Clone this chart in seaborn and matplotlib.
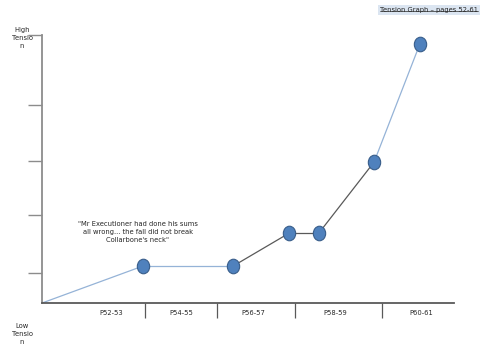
import matplotlib
matplotlib.use("Agg")
import matplotlib.pyplot as plt
from matplotlib.path import Path
from matplotlib.transforms import Affine2D
import seaborn as sns
import pandas as pd

# data (x along the page axis 0-10, tension 0-10)
point_x = [0.0, 2.45, 4.64, 6.0, 6.72, 8.06, 9.17]
tension = [0.0, 1.38, 1.38, 2.61, 2.61, 5.26, 9.66]
has_marker = [False, True, True, True, True, True, True]
segment_kind = ["light", "light", "dark", "dark", "dark", "light"]

categories = ["P52-53", "P54-55", "P56-57", "P58-59", "P60-61"]
category_centres = [1.67, 3.37, 5.12, 7.11, 9.2]
category_dividers = [2.5, 4.25, 6.14, 8.25]
tension_ticks = [1.12, 3.28, 5.3, 7.39, 10.0]

quote = '"Mr Executioner had done his sums\nall wrong... the fall did not break\nCollarbone\'s neck"'
title = "Tension Graph \u2013 pages 52-61"

sns.set_style("white")
plt.rcParams["font.family"] = ["DejaVu Sans"]
fs = 4.9
txt_color = "#262626"

df = pd.DataFrame({"x": point_x, "tension": tension, "marker": has_marker})

fig = plt.figure(figsize=(5, 3.53), dpi=100)
ax = fig.add_axes([0.084, 0.1416, 0.824, 0.759])

# line segments, two colours
seg_colors = {"light": "#95b3d7", "dark": "#595959"}
for i, kind in enumerate(segment_kind):
    seg = df.iloc[i:i + 2]
    sns.lineplot(data=seg, x="x", y="tension", color=seg_colors[kind],
                 linewidth=0.9, ax=ax, sort=False)

# slightly tall oval markers
ellipse = Path.unit_circle().transformed(Affine2D().scale(1.0, 1.18))
sns.scatterplot(data=df[df["marker"]], x="x", y="tension", marker=ellipse,
                s=110, color="#4f81bd", edgecolor="#385d8a", linewidth=0.8,
                ax=ax, zorder=5, clip_on=False)

ax.set_xlim(0, 10)
ax.set_ylim(0, 10)
ax.set_xlabel("")
ax.set_ylabel("")
for side in ["top", "right"]:
    ax.spines[side].set_visible(False)
ax.spines["left"].set_color("#8c8c8c")
ax.spines["left"].set_linewidth(1.3)
ax.spines["bottom"].set_color("#595959")
ax.spines["bottom"].set_linewidth(1.3)

ax.set_yticks(tension_ticks)
ax.set_yticklabels([])
ax.tick_params(axis="y", direction="out", length=10, width=1.0, color="#8c8c8c", left=True)
ax.set_xticks(category_dividers)
ax.set_xticklabels([])
ax.tick_params(axis="x", direction="out", length=11, width=0.9, color="#595959", bottom=True)

for name, cx in zip(categories, category_centres):
    ax.annotate(name, xy=(cx, 0), xycoords=("data", "axes fraction"),
                xytext=(0, -7), textcoords="offset points", ha="center",
                va="center", fontsize=fs, color=txt_color)

fig.text(0.044, 0.893, "High\nTensio\nn", ha="center", va="center",
         fontsize=fs, color=txt_color, linespacing=1.45)
fig.text(0.044, 0.054, "Low\nTensio\nn", ha="center", va="center",
         fontsize=fs, color=txt_color, linespacing=1.45)

ax.text(2.33, 2.65, quote, ha="center", va="center", fontsize=fs,
        color=txt_color, linespacing=1.45)

t = fig.text(0.858, 0.972, title, ha="center", va="center", fontsize=fs,
             color=txt_color,
             bbox=dict(boxstyle="square,pad=0.35", facecolor="#dbe5f1",
                       edgecolor="none"))
fig.canvas.draw()
bb = t.get_window_extent().transformed(fig.transFigure.inverted())
fig.add_artist(plt.Line2D([bb.x0, bb.x1], [bb.y0 + 0.004, bb.y0 + 0.004],
                          color=txt_color, linewidth=0.5, zorder=10,
                          transform=fig.transFigure))

fig.savefig("out.png", dpi=100)
